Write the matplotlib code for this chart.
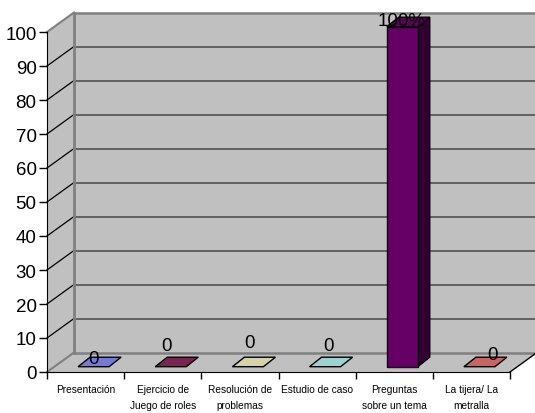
import matplotlib
matplotlib.use("Agg")
import matplotlib.pyplot as plt
from matplotlib.patches import Polygon
import numpy as np

# ---- data ----
categories = ["Presentación", "Ejercicio de\nJuego de roles", "Resolución de\nproblemas",
              "Estudio de caso", "Preguntas\nsobre un tema", "La tijera/ La\nmetralla"]
values = [0, 0, 0, 0, 100, 0]
value_labels = ["0", "0", "0", "0", "100%", "0"]
bar_colors = ["#7878D8", "#7A2452", "#D4D4A8", "#9CD2D2", "#660066", "#CC6464"]
yticks = list(range(0, 101, 10))

# ---- styling / geometry ----
plt.rcParams['font.family'] = ['Liberation Sans', 'DejaVu Sans']
W, H = 535, 414
fig = plt.figure(figsize=(W / 100, H / 100), dpi=100)
fig.patch.set_facecolor("white")
left_px, right_px, bot_px, top_px = 47, 510, 373, 33
ax = fig.add_axes([left_px / W, (H - bot_px) / H, (right_px - left_px) / W, (bot_px - top_px) / H])
n = len(categories)
ax.set_xlim(0, n)
ax.set_ylim(0, 100)
ax.set_facecolor("none")
sx = (right_px - left_px) / n        # px per category
sy = (bot_px - top_px) / 100.0       # px per unit
wdx, wdy = 27 / sx, 19.5 / sy        # wall depth
fdx, fdy = 8 / sx, 5.3 / sy          # bar front-face depth offset
bdx, bdy = 12 / sx, 9.5 / sy         # bar depth
bw = 31 / sx                          # bar width

wall = "#C0C0C0"
edge_gray = "#808080"
# side wall
ax.add_patch(Polygon([(0, 0), (0, 100), (wdx, 100 + wdy), (wdx, wdy)], closed=True,
                     facecolor=wall, edgecolor="none", clip_on=False, zorder=0))
# back wall
ax.add_patch(Polygon([(wdx, wdy), (n + wdx, wdy), (n + wdx, 100 + wdy), (wdx, 100 + wdy)], closed=True,
                     facecolor=wall, edgecolor="none", clip_on=False, zorder=0))
# floor
ax.add_patch(Polygon([(0, 0), (n, 0), (n + wdx, wdy), (wdx, wdy)], closed=True,
                     facecolor=wall, edgecolor="none", clip_on=False, zorder=0))

# gridlines
for v in yticks:
    ax.plot([wdx, n + wdx], [v + wdy, v + wdy], color="#5A5A5A" if v not in (0, 100) else edge_gray,
            lw=1.3 if v not in (0, 100) else 1.8, clip_on=False, zorder=1, solid_capstyle="butt")
    ax.plot([0, wdx], [v, v + wdy], color="black" if v not in (0, 100) else edge_gray,
            lw=0.9 if v not in (0, 100) else 1.5, clip_on=False, zorder=1)
# back-wall left edge
ax.plot([wdx, wdx], [wdy, 100 + wdy], color=edge_gray, lw=2, clip_on=False, zorder=1)
# floor right edge
ax.plot([n, n + wdx], [0, wdy], color="black", lw=1, clip_on=False, zorder=1)


def shade(c, f):
    rgb = np.array(matplotlib.colors.to_rgb(c))
    return tuple(np.clip(rgb * f, 0, 1))


# bars
for i, (v, c) in enumerate(zip(values, bar_colors)):
    x0 = i + 0.5 + fdx - bw / 2
    y0 = fdy
    if v > 0:
        ax.add_patch(Polygon([(x0 + bw, y0), (x0 + bw + bdx, y0 + bdy), (x0 + bw + bdx, y0 + v + bdy),
                              (x0 + bw, y0 + v)], closed=True, facecolor=shade(c, 0.5),
                             edgecolor="black", lw=1, clip_on=False, zorder=3))
        ax.add_patch(Polygon([(x0, y0), (x0 + bw, y0), (x0 + bw, y0 + v), (x0, y0 + v)], closed=True,
                             facecolor=c, edgecolor="black", lw=1, clip_on=False, zorder=3))
        topc = shade(c, 0.9)
    else:
        topc = c
    ax.add_patch(Polygon([(x0, y0 + v), (x0 + bw, y0 + v), (x0 + bw + bdx, y0 + v + bdy),
                          (x0 + bdx, y0 + v + bdy)], closed=True, facecolor=topc,
                         edgecolor="black", lw=1, clip_on=False, zorder=3))

# value labels (offsets in px relative to bar top-front centre)
label_off_px = [(0, 8), (-4, 21), (2, 24), (3, 21), (-1, 6), (13, 12)]
for i, (v, lab) in enumerate(zip(values, value_labels)):
    ox, oy = label_off_px[i]
    ax.text(i + 0.5 + fdx + ox / sx, fdy + v + oy / sy, lab, ha="center", va="center",
            fontsize=13.5, color="black", zorder=4, clip_on=False)

# axes
for s in ["top", "right"]:
    ax.spines[s].set_visible(False)
ax.spines["left"].set_color("black")
ax.spines["bottom"].set_color("black")
ax.spines["left"].set_zorder(5)
ax.spines["bottom"].set_zorder(5)
ax.set_yticks(yticks)
ax.set_yticklabels([str(t) for t in yticks], fontsize=13.5)
ax.tick_params(axis="y", length=6, width=1, pad=1.5, color="black")
ax.set_xticks(np.arange(n) + 0.5)
ax.set_xticklabels(categories, fontsize=7.3, linespacing=1.75, va="top")
ax.set_xticks(np.arange(n + 1), minor=True)
ax.tick_params(axis="x", which="major", length=0, pad=8.5)
ax.tick_params(axis="x", which="minor", length=5, width=1, color="black")

fig.savefig("out.png", dpi=100)
